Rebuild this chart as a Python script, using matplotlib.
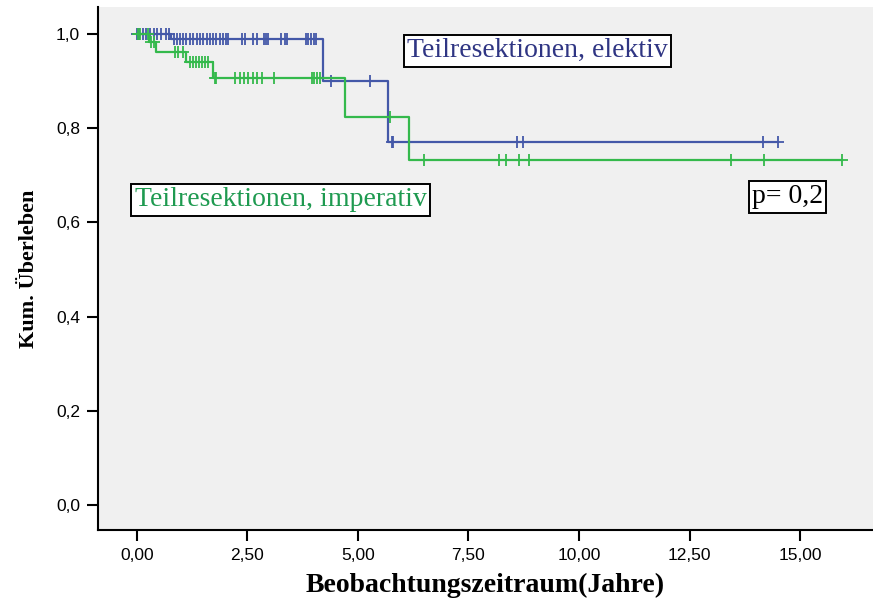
import numpy as np
import matplotlib
matplotlib.use("Agg")
import matplotlib.pyplot as plt
from matplotlib.ticker import FuncFormatter

# Kaplan-Meier: Teilresektionen elektiv vs. imperativ
# Ereigniszeiten (Jahre) und Ueberleben nach dem jeweiligen Ereignis
elektiv_events = [0.78, 4.22, 5.69]
elektiv_surv = [0.989, 0.899, 0.770]
elektiv_censored = [0.0, 0.05, 0.14, 0.2, 0.3, 0.38, 0.45, 0.55, 0.65, 0.72,
                    0.85, 0.9, 0.98, 1.05, 1.12, 1.2, 1.28, 1.35, 1.42, 1.5,
                    1.58, 1.65, 1.72, 1.8, 1.88, 1.95, 2.02, 2.06, 2.37, 2.44,
                    2.63, 2.71, 2.88, 2.93, 2.97, 3.27, 3.35, 3.39, 3.82, 3.88,
                    3.94, 4.0, 4.05, 4.40, 5.27, 5.76, 5.80, 8.59, 8.73,
                    14.17, 14.5]

imperativ_events = [0.27, 0.43, 1.12, 1.71, 4.71, 6.16]
imperativ_surv = [0.982, 0.961, 0.940, 0.906, 0.824, 0.733]
imperativ_censored = [0.02, 0.08, 0.25, 0.33, 0.38, 0.86, 0.93, 1.05, 1.2,
                      1.27, 1.33, 1.4, 1.47, 1.55, 1.6, 1.76, 1.80, 2.22,
                      2.33, 2.42, 2.51, 2.63, 2.71, 2.82, 3.1, 3.95, 4.0,
                      4.07, 4.14, 5.72, 6.49, 8.2, 8.34, 8.64, 8.88, 13.43,
                      14.19, 15.95]

x_ticks = [0, 2.5, 5, 7.5, 10, 12.5, 15]
y_ticks = [0.0, 0.2, 0.4, 0.6, 0.8, 1.0]

blue = "#4458a8"
green = "#34b94c"


def km_line(events, surv, censored):
    t_end = max(max(events), max(censored))
    xs = [0.0]
    ys = [1.0]
    level = 1.0
    for t, s in zip(events, surv):
        xs += [t, t]
        ys += [level, s]
        level = s
    xs.append(t_end)
    ys.append(level)
    cens = np.array(censored)
    ev = np.array(events)
    sv = np.concatenate([[1.0], surv])
    cy = sv[np.searchsorted(ev, cens, side="right")]
    return xs, ys, cens, cy


fig = plt.figure(figsize=(8.73, 6.03), dpi=100)
ax = fig.add_axes([98 / 873, 73 / 603, 1 - 98 / 873, 523 / 603])
ax.set_facecolor("#f0f0f0")

for events, surv, cens, col in [
    (elektiv_events, elektiv_surv, elektiv_censored, blue),
    (imperativ_events, imperativ_surv, imperativ_censored, green),
]:
    xs, ys, cx, cy = km_line(events, surv, cens)
    ax.plot(xs, ys, color=col, lw=1.6)
    ax.plot(cx, cy, ls="none", marker="+", ms=8, mew=1.3, color=col)

ax.set_xlim(-0.88, 16.65)
ax.set_ylim(-0.053, 1.057)
ax.set_xticks(x_ticks)
ax.set_yticks(y_ticks)
ax.xaxis.set_major_formatter(FuncFormatter(lambda v, p: f"{v:.2f}".replace(".", ",")))
ax.yaxis.set_major_formatter(FuncFormatter(lambda v, p: f"{v:.1f}".replace(".", ",")))
ax.tick_params(direction="out", length=8, width=1.5, labelsize=12.5, pad=5)
for lab in ax.get_xticklabels() + ax.get_yticklabels():
    lab.set_family("Liberation Sans")

for side in ["top", "right"]:
    ax.spines[side].set_visible(False)
for side in ["left", "bottom"]:
    ax.spines[side].set_linewidth(1.5)

ax.set_xlabel("Beobachtungszeitraum(Jahre)", family="Liberation Serif",
              weight="bold", fontsize=20, labelpad=7)
ax.set_ylabel("Kum. Überleben", family="Liberation Serif",
              weight="bold", fontsize=16, labelpad=12)

box = dict(boxstyle="square,pad=0.12", fc="white", ec="black", lw=1.4)
ax.text(6.11, 0.964, "Teilresektionen, elektiv", color="#2f3583",
        family="Liberation Serif", fontsize=20, va="center", bbox=box)
ax.text(-0.05, 0.648, "Teilresektionen, imperativ", color="#1e9a50",
        family="Liberation Serif", fontsize=20, va="center", bbox=box)
ax.text(13.91, 0.654, "p= 0,2", color="black",
        family="Liberation Serif", fontsize=20, va="center", bbox=box)

fig.savefig("out.png", dpi=100)
